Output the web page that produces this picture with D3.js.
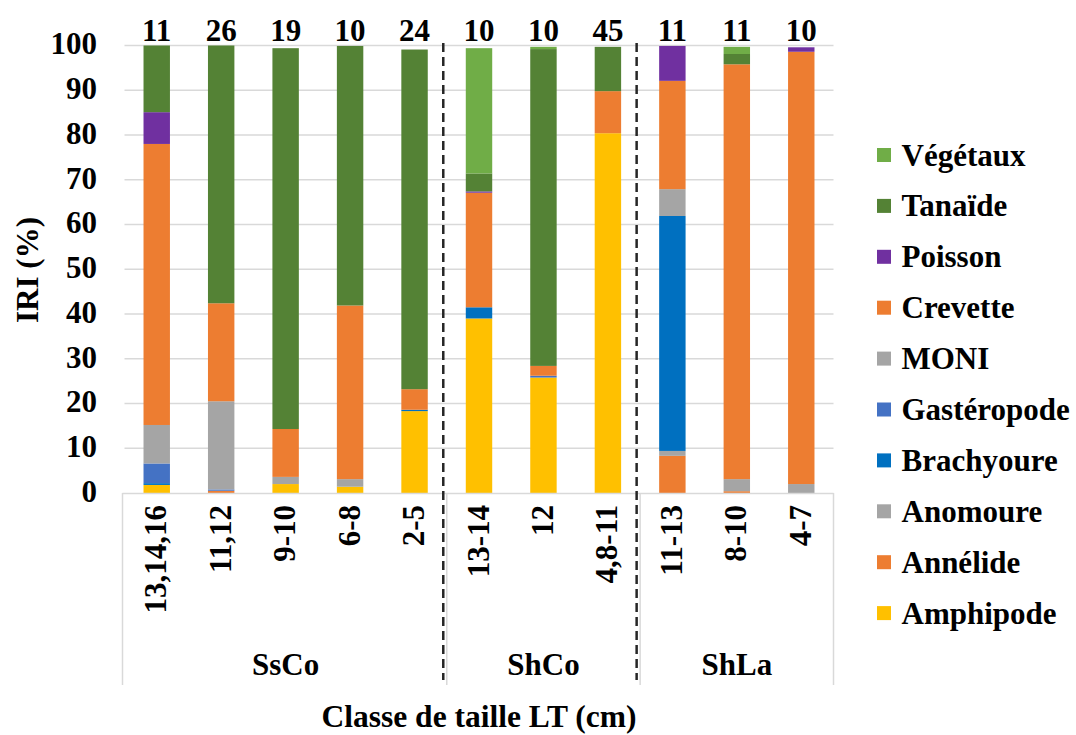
<!DOCTYPE html>
<html>
<head>
<meta charset="utf-8">
<script src="https://cdn.jsdelivr.net/npm/d3@7"></script>
<style>
  html, body { margin: 0; padding: 0; background: #fff; }
  svg { display: block; }
  svg text { font-family: "Liberation Serif", "Times New Roman", Tinos, serif !important; font-weight: bold; }
</style>
</head>
<body>
<svg id="chart" width="1076" height="735" font-family="Liberation Serif"></svg>
<script>
// ---- data ----
const categories = ["13,14,16", "11,12", "9-10", "6-8", "2-5", "13-14", "12", "4,8-11", "11-13", "8-10", "4-7"];
const groupNames = ["SsCo", "ShCo", "ShLa"];
const groupSizes = [5, 3, 3];
const counts = ["11", "26", "19", "10", "24", "10", "10", "45", "11", "11", "10"];
const yTicks = [0, 10, 20, 30, 40, 50, 60, 70, 80, 90, 100];

// stacked from bottom to top
const seriesNames = ["Amphipode", "Annélide", "Anomoure", "Brachyoure", "Gastéropode", "MONI", "Crevette", "Poisson", "Tanaïde", "Végétaux"];
const seriesColors = ["#FFC000", "#ED7D31", "#A5A5A5", "#0070C0", "#4472C4", "#A5A5A5", "#ED7D31", "#7030A0", "#548235", "#70AD47"];

const amphipode   = [1.8, 0,    2.0,  1.4,  18.3, 39.0, 25.8, 80.4, 0,    0,    0];
const annelide    = [0,   0.5,  0,    0,    0,    0,    0,    0,    8.3,  0.4,  0];
const anomoure    = [0,   0,    0,    0,    0,    0,    0,    0,    1.1,  0,    0];
const brachyoure  = [0.4, 0,    0,    0,    0.3,  2.5,  0,    0,    52.5, 0,    0];
const gasteropode = [4.4, 0.3,  0,    0,    0,    0,    0.4,  0,    0,    0,    0];
const moni        = [8.6, 19.7, 1.6,  1.7,  0,    0,    0,    0,    6.0,  2.7,  2.0];
const crevette    = [62.8,21.9, 10.7, 38.8, 4.6,  25.6, 2.2,  9.4,  24.2, 92.7, 96.6];
const poisson     = [7.1, 0,    0,    0,    0,    0.3,  0,    0,    7.8,  0,    1.0];
const tanaide     = [14.9,57.6, 85.1, 58.0, 75.9, 4.0,  70.8, 9.9,  0,    2.3,  0];
const vegetaux    = [0,   0,    0,    0,    0,    28.0, 0.5,  0,    0,    1.6,  0];
const seriesValues = [amphipode, annelide, anomoure, brachyoure, gasteropode, moni, crevette, poisson, tanaide, vegetaux];

// ---- build table ----
const table = categories.map((c, i) => {
  const row = { cat: c };
  seriesNames.forEach((s, j) => row[s] = seriesValues[j][i]);
  return row;
});
const stacked = d3.stack().keys(seriesNames)(table);

const FONT = "'Liberation Serif', 'Times New Roman', Tinos, serif";
const FS = 31;
const svg = d3.select("#chart");
const plotLeft = 124.5, plotRight = 833.5, plotTop = 45.5, plotBottom = 493;

const x = d3.scaleBand().domain(categories).range([plotLeft, plotRight]).paddingInner(0.59).paddingOuter(0.295);
const y = d3.scaleLinear().domain([0, 100]).range([plotBottom, plotTop]);
const color = d3.scaleOrdinal().domain(seriesNames).range(seriesColors);

function styleText(sel, size) {
  return sel.attr("font-family", FONT).attr("font-weight", "bold").attr("font-size", size).attr("fill", "#000")
    .style("font-family", FONT).style("font-weight", "bold");
}

// gridlines
svg.append("g").selectAll("line").data(yTicks.filter(t => t > 0)).join("line")
  .attr("x1", plotLeft).attr("x2", plotRight)
  .attr("y1", d => y(d)).attr("y2", d => y(d))
  .attr("stroke", "#D9D9D9").attr("stroke-width", 1.3);

// y axis labels
const yAxis = d3.axisLeft(y).tickValues(yTicks).tickSize(0).tickPadding(0);
const gy = svg.append("g").attr("transform", `translate(97,0)`).call(yAxis);
gy.select(".domain").remove();
gy.attr("font-family", FONT);
styleText(gy.selectAll("text"), FS).attr("dy", "0.27em");

// bars
svg.append("g").selectAll("g").data(stacked).join("g")
  .attr("fill", d => color(d.key))
  .selectAll("rect").data(d => d).join("rect")
  .attr("x", d => x(d.data.cat))
  .attr("width", x.bandwidth())
  .attr("y", d => y(d[1]))
  .attr("height", d => Math.max(0, y(d[0]) - y(d[1])));

// count labels above bars
styleText(svg.append("g").selectAll("text").data(categories).join("text"), FS)
  .attr("x", (d) => x(d) + x.bandwidth() / 2)
  .attr("y", 40.5)
  .attr("text-anchor", "middle")
  .text((d, i) => counts[i]);

// category box: top axis line and vertical separators
svg.append("line").attr("x1", plotLeft - 2).attr("x2", plotRight).attr("y1", plotBottom + 0.5).attr("y2", plotBottom + 0.5)
  .attr("stroke", "#D9D9D9").attr("stroke-width", 1.5);
const step = x.step();
let acc = 0;
const edges = [0];
groupSizes.forEach(g => { acc += g; edges.push(acc); });
svg.append("g").selectAll("line").data(edges).join("line")
  .attr("x1", d => plotLeft + d * step - (d === 0 ? 2 : 0)).attr("x2", d => plotLeft + d * step - (d === 0 ? 2 : 0))
  .attr("y1", plotBottom).attr("y2", 685)
  .attr("stroke", "#D9D9D9").attr("stroke-width", 1.5);

// dashed group separators
svg.append("g").selectAll("line").data(edges.slice(1, -1)).join("line")
  .attr("x1", d => plotLeft + d * step - 3.5).attr("x2", d => plotLeft + d * step - 3.5)
  .attr("y1", 43).attr("y2", 680)
  .attr("stroke", "#262626").attr("stroke-width", 2.5)
  .attr("stroke-dasharray", "9,5");

// category labels (rotated)
styleText(svg.append("g").selectAll("text").data(categories).join("text"), FS)
  .attr("transform", d => `translate(${x(d) + x.bandwidth() / 2 - 1},505) rotate(-90)`)
  .attr("text-anchor", "end")
  .attr("dominant-baseline", "central")
  .text(d => d);

// group labels
styleText(svg.append("g").selectAll("text").data(groupNames).join("text"), FS)
  .attr("x", (d, i) => plotLeft + (edges[i] + edges[i + 1]) / 2 * step)
  .attr("y", 675)
  .attr("text-anchor", "middle")
  .text(d => d);

// axis titles
styleText(svg.append("text"), 31.5).attr("x", 479).attr("y", 727).attr("text-anchor", "middle")
  .text("Classe de taille LT (cm)");
styleText(svg.append("text"), 31).attr("transform", "translate(38,270) rotate(-90)").attr("text-anchor", "middle")
  .text("IRI (%)");

// legend (top to bottom = reversed stack order)
const legendItems = seriesNames.slice().reverse();
const lg = svg.append("g").selectAll("g").data(legendItems).join("g")
  .attr("transform", (d, i) => `translate(877,${155 + i * 50.9})`);
lg.append("rect").attr("x", 0).attr("y", -7).attr("width", 14).attr("height", 14).attr("fill", d => color(d));
styleText(lg.append("text"), FS).attr("x", 24.5).attr("y", 0).attr("dominant-baseline", "central")
  .text(d => d);
</script>
</body>
</html>
